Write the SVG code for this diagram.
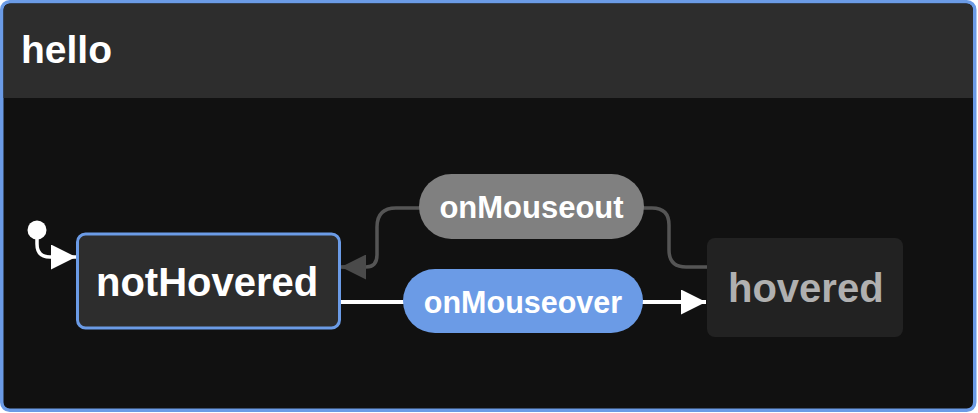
<svg xmlns="http://www.w3.org/2000/svg" width="978" height="413" viewBox="0 0 978 413">
<defs>
<style>
text{font-family:"Liberation Sans",Arial,sans-serif;font-weight:bold}
.big{font-size:40px}
.lbl{font-size:31px;fill:#ffffff}
</style>
<marker id="aw" viewBox="0 0 10 10" refX="10" refY="5" markerWidth="25" markerHeight="25" markerUnits="userSpaceOnUse" orient="auto"><path d="M0,0 L10,5 L0,10 Z" fill="#ffffff"/></marker>
<marker id="ag" viewBox="0 0 10 10" refX="10" refY="5" markerWidth="25" markerHeight="25" markerUnits="userSpaceOnUse" orient="auto"><path d="M0,0 L10,5 L0,10 Z" fill="#4a4a4a"/></marker>
</defs>
<g id="hello">
<rect x="1.75" y="1.75" width="973" height="408.5" rx="8" fill="#111111" stroke="#6b9be6" stroke-width="3.5"/>
<path d="M3.5,11 Q3.5,3.5 11,3.5 H965.5 Q973,3.5 973,11 V98 H3.5 Z" fill="#2d2d2d"/>
<text x="21" y="63" class="big" fill="#ffffff" style="font-size:39px">hello</text>
</g>
<g id="connectors">
<circle cx="37" cy="230" r="9.5" fill="#ffffff"/>
<path d="M37,232 V244 Q37,257 50,257 H76" fill="none" stroke="#ffffff" stroke-width="3.5" marker-end="url(#aw)"/>
<path d="M707,267 H686 Q669,267 669,250 V225 Q669,208 652,208 H396 Q377,208 377,227 V255 Q377,267 366,267 H341" fill="none" stroke="#555555" stroke-width="3.5" marker-end="url(#ag)"/>
<path d="M340,302 H706" fill="none" stroke="#ffffff" stroke-width="4" marker-end="url(#aw)"/>
</g>
<g id="notHovered">
<rect x="77.5" y="234" width="262" height="94" rx="8" fill="#2d2d2d" stroke="#6b9be6" stroke-width="3"/>
<text x="96" y="296" class="big" fill="#ffffff">notHovered</text>
</g>
<g id="hovered">
<rect x="707" y="238" width="196" height="99" rx="8" fill="#222222"/>
<text x="728" y="302" class="big" fill="#b0b0b0">hovered</text>
</g>
<g id="onMouseout">
<rect x="419" y="174" width="225" height="65" rx="32.5" fill="#808080"/>
<text x="531.5" y="218" class="lbl" text-anchor="middle">onMouseout</text>
</g>
<g id="onMouseover">
<rect x="403" y="269" width="240" height="64" rx="32" fill="#6b9be6"/>
<text x="523" y="313" class="lbl" text-anchor="middle" style="font-size:30.5px">onMouseover</text>
</g>
</svg>
